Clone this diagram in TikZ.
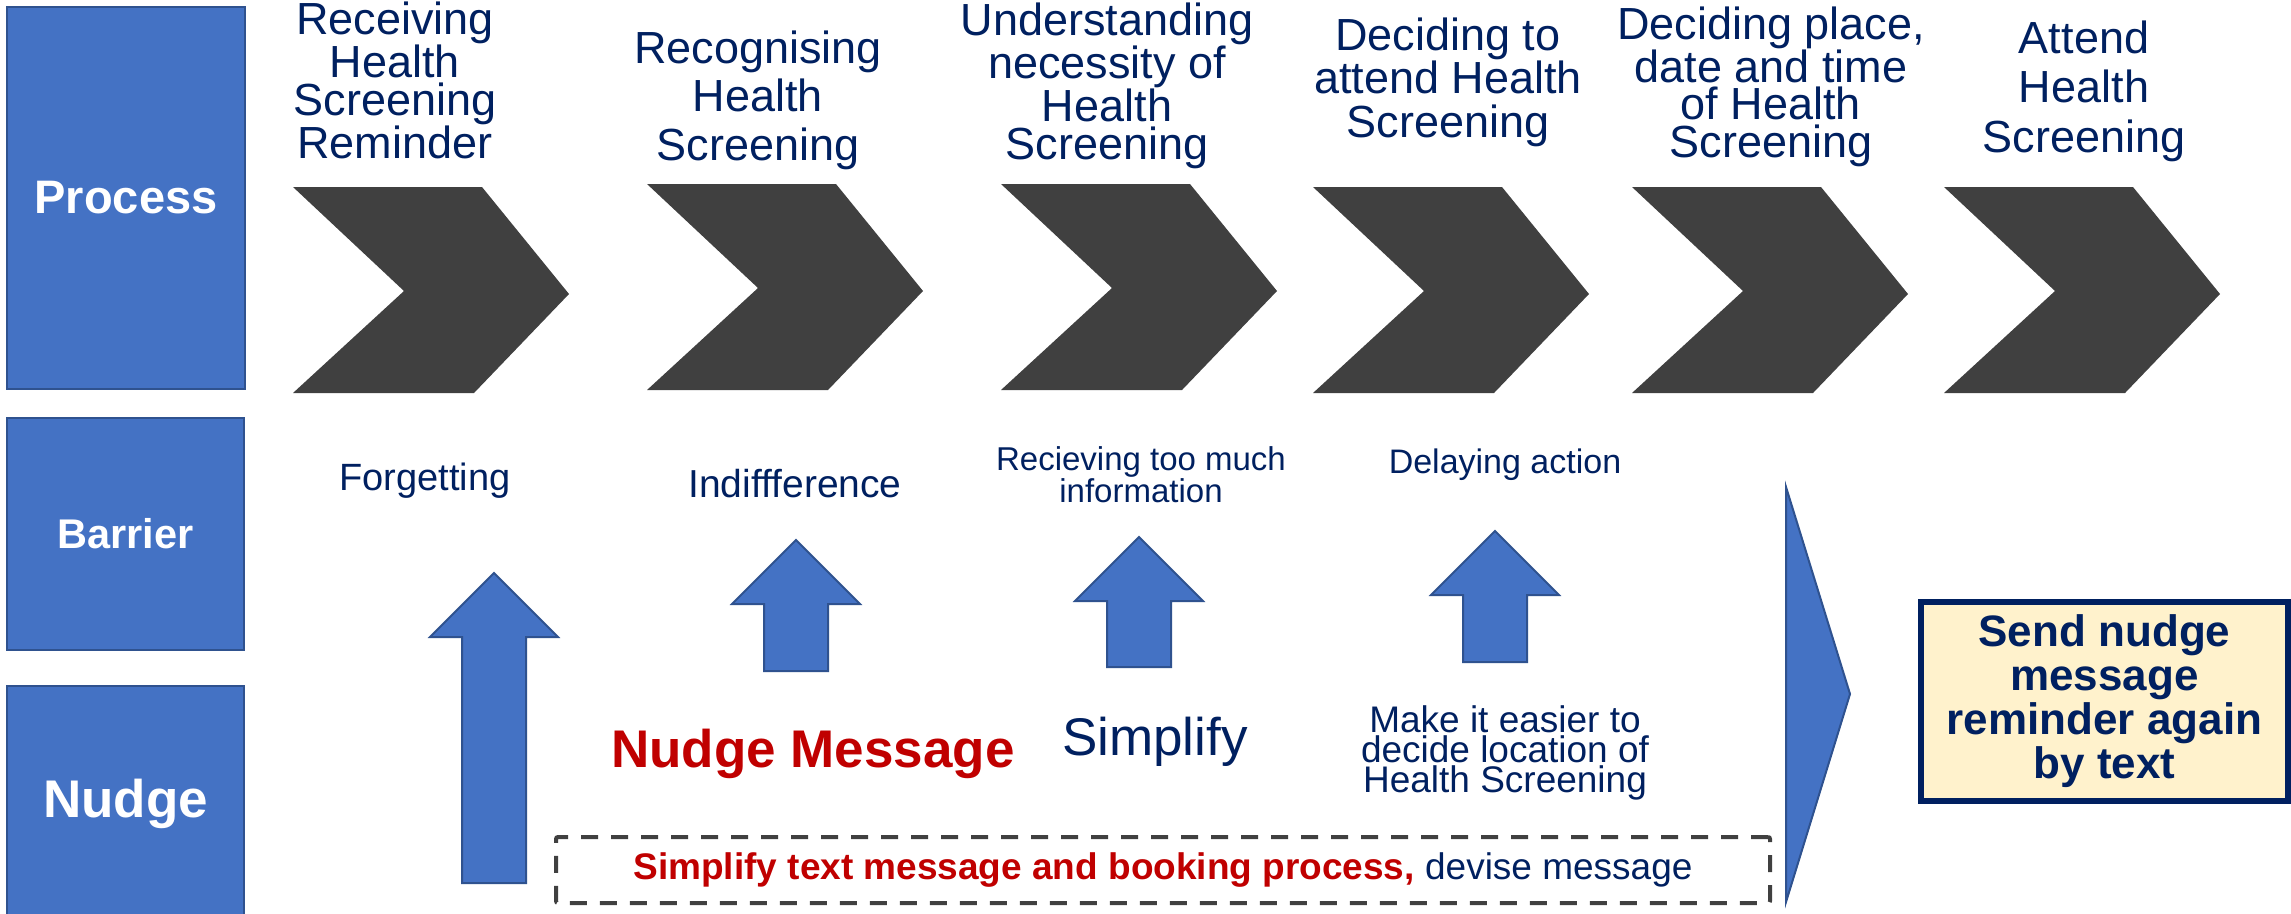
\documentclass[tikz,border=0pt]{standalone}
\usepackage{fontspec}
\setmainfont{Liberation Sans}
\definecolor{navy}{HTML}{002060}
\definecolor{boxblue}{HTML}{4472C4}
\definecolor{boxedge}{HTML}{2F528F}
\definecolor{chev}{HTML}{404040}
\definecolor{nred}{HTML}{C00000}
\definecolor{yel}{HTML}{FFF2CC}
\tikzset{
  catbox/.style={draw=boxedge, line width=2pt, fill=boxblue, text=white, inner sep=0pt},
  title/.style={text=navy, align=center, anchor=base, inner sep=0pt},
  bartext/.style={text=navy, anchor=base, inner sep=0pt, align=center},
  chevfill/.style={fill=chev},
  blockarrow/.style={fill=boxblue, draw=boxedge, line width=2pt},
  dashbox/.style={draw=chev, line width=4pt, dash pattern=on 17pt off 13pt, rounded corners=2pt, inner sep=0pt},
  sendbox/.style={draw=navy, line width=6pt, fill=yel, text=navy, align=center, inner sep=0pt,
    font=\bfseries\fontsize{44}{44}\selectfont}
}
\newcommand\mychev[2]{\fill[chevfill] (#1,#2) -- ++(189,0) -- ++(87,107) -- ++(-95,99) -- ++(-181,0) -- ++(111,-102) -- cycle;}
\newcommand\myuparrow[4]{\filldraw[blockarrow] (#1,#2) -- (#1+64,#3) -- (#1+32,#3) -- (#1+32,#4) -- (#1-32,#4) -- (#1-32,#3) -- (#1-64,#3) -- cycle;}
\begin{document}
\begin{tikzpicture}[x=1pt,y=-1pt]
\useasboundingbox[fill=white] (0,0) rectangle (2291,913);
% category boxes
\node[catbox, minimum width=238, minimum height=382, font=\bfseries\fontsize{47}{47}\selectfont] (process) at (126,198) {Process};
\node[catbox, minimum width=237, minimum height=232, font=\bfseries\fontsize{41.5}{41.5}\selectfont] (barrier) at (125.5,534) {Barrier};
\node[catbox, minimum width=237, minimum height=236, font=\bfseries\fontsize{53}{53}\selectfont] (nudge) at (125.5,804) {Nudge};
% chevrons
\mychev{293}{187}
\mychev{647}{184}
\mychev{1001}{184}
\mychev{1313}{187}
\mychev{1632}{187}
\mychev{1944}{187}
% titles (anchor base = baseline of last line)
\node[title, font=\fontsize{45}{37.7}\selectfont] (t1) at (395,158) {Receiving\\Health\\Screening\\Reminder};
\node[title, font=\fontsize{45}{48.5}\selectfont] (t2) at (758,160) {Recognising\\Health\\Screening};
\node[title, font=\fontsize{45}{37.7}\selectfont] (t3) at (1107,159) {Understanding\\necessity of\\Health\\Screening};
\node[title, font=\fontsize{45}{43.5}\selectfont] (t4) at (1448,137) {Deciding to\\attend Health\\Screening};
\node[title, font=\fontsize{45}{37.3}\selectfont] (t5) at (1771,157) {Deciding place,\\date and time\\of Health\\Screening};
\node[title, font=\fontsize{45}{49.5}\selectfont] (t6) at (2084,152) {Attend\\Health\\Screening};
% barriers
\node[bartext, font=\fontsize{38}{38}\selectfont] (forget) at (425,490) {Forgetting};
\node[bartext, font=\fontsize{39}{39}\selectfont] (indiff) at (795,497) {Indiffference};
\node[bartext, font=\fontsize{33}{28}\selectfont] (toomuch) at (1141,502) {Recieving too much\\information};
\node[bartext, font=\fontsize{34}{34}\selectfont] (delay) at (1505,473) {Delaying action};
% up arrows
\myuparrow{494}{573}{637}{883}
\myuparrow{796}{540}{604}{671}
\myuparrow{1139}{537}{601}{667}
\myuparrow{1495}{531}{595}{662}
% nudges
\node[anchor=base, inner sep=0pt, text=nred, font=\bfseries\fontsize{53}{53}\selectfont] (nmsg) at (813,767) {Nudge Message};
\node[bartext, font=\fontsize{53}{53}\selectfont] (simp) at (1155,755) {Simplify};
\node[bartext, font=\fontsize{37}{30}\selectfont] (easier) at (1505,792) {Make it easier to\\decide location of\\Health Screening};
\node[dashbox, minimum width=1214, minimum height=66, font=\fontsize{37}{37}\selectfont] (dbox) at (1163,870)
  {\textcolor{nred}{\bfseries Simplify text message and booking process,}\ \textcolor{navy}{devise message}};
% big triangle
\filldraw[blockarrow] (1786,487) -- (1850,694) -- (1786,902) -- cycle;
% send box
\node[sendbox, minimum width=367, minimum height=199] (send) at (2104.5,701) {Send nudge\\message\\reminder again\\by text};
\end{tikzpicture}
\end{document}
